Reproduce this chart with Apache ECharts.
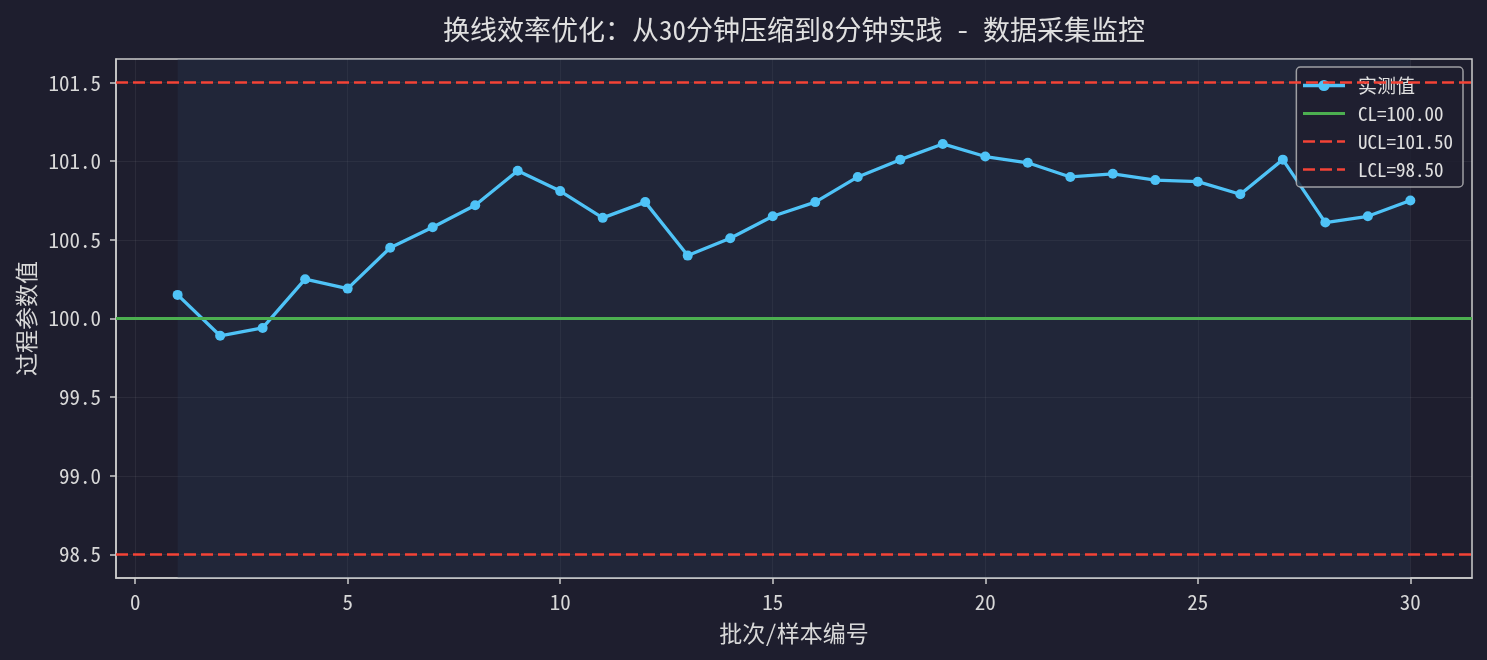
<!DOCTYPE html>
<html>
<head>
<meta charset="utf-8">
<script src="https://cdn.jsdelivr.net/npm/echarts@6/dist/echarts.min.js"></script>
<style>
  html, body { margin: 0; padding: 0; background: #1e1e2e; }
  #chart { width: 1487px; height: 660px; }
</style>
</head>
<body>
<div id="chart"></div>
<script>
var batches = [1, 2, 3, 4, 5, 6, 7, 8, 9, 10,
               11, 12, 13, 14, 15, 16, 17, 18, 19, 20,
               21, 22, 23, 24, 25, 26, 27, 28, 29, 30];
var values = [100.15, 99.89, 99.94, 100.25, 100.19, 100.45, 100.58, 100.72, 100.94, 100.81,
              100.64, 100.74, 100.40, 100.51, 100.65, 100.74, 100.90, 101.01, 101.11, 101.03,
              100.99, 100.90, 100.92, 100.88, 100.87, 100.79, 101.01, 100.61, 100.65, 100.75];
var CL = 100.0, UCL = 101.5, LCL = 98.5;
var xTicks = [0, 5, 10, 15, 20, 25, 30];
var yTicks = [98.5, 99.0, 99.5, 100.0, 100.5, 101.0, 101.5];

var FONT = "'Noto Sans Mono CJK SC', 'Noto Sans CJK SC', monospace";
var TXT = '#d8d8d8';

var points = batches.map(function (b, i) { return [b, values[i]]; });

function limitSeries(name, value, color, type) {
	var ls = { color: color, width: type == 'solid' ? 3 : 2.7, type: type == 'solid' ? 'solid' : [12, 5] };
	return {
		name: name,
		type: 'line',
		data: [],
		symbol: 'none',
		lineStyle: ls,
		itemStyle: { color: color },
		markLine: {
			silent: true,
			symbol: 'none',
			label: { show: false },
			lineStyle: ls,
			data: [{ yAxis: value }]
		}
	};
}

var myChart = echarts.init(document.getElementById('chart'));
var option = {
	backgroundColor: '#1e1e2e',
	animation: false,
	textStyle: { fontFamily: FONT },
	title: {
		text: '换线效率优化：从30分钟压缩到8分钟实践 - 数据采集监控',
		left: 443,
		top: 16,
		padding: 0,
		textStyle: { color: '#e0e0e0', fontSize: 27, fontWeight: 'normal', fontFamily: FONT }
	},
	legend: {
		orient: 'vertical',
		right: 24,
		top: 67,
		itemWidth: 42,
		itemHeight: 14,
		itemGap: 9,
		padding: [9, 10, 8, 5],
		backgroundColor: 'rgba(30,30,46,0.82)',
		borderColor: 'rgba(200,200,200,0.75)',
		borderWidth: 1.5,
		borderRadius: 4,
		textStyle: { color: '#e0e0e0', fontSize: 19, fontFamily: FONT, padding: [0, 0, 0, 8] },
		data: [
			{ name: '实测值', lineStyle: { width: 3.3 } },
			{ name: 'CL=' + CL.toFixed(2), itemStyle: { opacity: 0 }, lineStyle: { width: 3 } },
			{ name: 'UCL=' + UCL.toFixed(2), itemStyle: { opacity: 0 }, lineStyle: { width: 2.7 } },
			{ name: 'LCL=' + LCL.toFixed(2), itemStyle: { opacity: 0 }, lineStyle: { width: 2.7 } }
		]
	},
	grid: {
		left: 116, right: 15, top: 59, bottom: 82,
		show: true,
		backgroundColor: '#1e1e2e',
		borderColor: '#cccccc',
		borderWidth: 1.5
	},
	xAxis: {
		type: 'value',
		min: -0.45,
		max: 31.45,
		name: '批次/样本编号',
		nameLocation: 'middle',
		nameGap: 44,
		nameTextStyle: { color: TXT, fontSize: 23, fontFamily: FONT },
		axisLine: { show: true, onZero: false, lineStyle: { color: '#cccccc', width: 1.5 } },
		axisTick: { show: true, length: 6, customValues: xTicks, lineStyle: { color: '#cccccc', width: 1.5 } },
		axisLabel: { color: TXT, fontSize: 21, margin: 14, customValues: xTicks },
		splitLine: { show: true, lineStyle: { color: 'rgba(255,255,255,0.06)', width: 1 } }
	},
	yAxis: {
		type: 'value',
		min: 98.35,
		max: 101.65,
		name: '过程参数值',
		nameLocation: 'middle',
		nameGap: 74,
		nameTextStyle: { color: TXT, fontSize: 23, fontFamily: FONT },
		axisLine: { show: true, onZero: false, lineStyle: { color: '#cccccc', width: 1.5 } },
		axisTick: { show: true, length: 6, customValues: yTicks, lineStyle: { color: '#cccccc', width: 1.5 } },
		axisLabel: {
			color: TXT, fontSize: 21, margin: 15, customValues: yTicks,
			formatter: function (v) { return v.toFixed(1); }
		},
		splitLine: { show: true, lineStyle: { color: 'rgba(255,255,255,0.06)', width: 1 } }
	},
	series: [
		{
			name: '实测值',
			type: 'line',
			data: points,
			symbol: 'circle',
			symbolSize: 10,
			z: 3,
			lineStyle: { color: '#4fc3f7', width: 3.3 },
			itemStyle: { color: '#4fc3f7' },
			markArea: {
				silent: true,
				itemStyle: { color: 'rgba(45,65,90,0.25)' },
				data: [[{ xAxis: batches[0] }, { xAxis: batches[batches.length - 1] }]]
			}
		},
		limitSeries('CL=' + CL.toFixed(2), CL, '#4caf50', 'solid'),
		limitSeries('UCL=' + UCL.toFixed(2), UCL, '#f44336', 'dashed'),
		limitSeries('LCL=' + LCL.toFixed(2), LCL, '#f44336', 'dashed')
	]
};
myChart.setOption(option);
</script>
</body>
</html>
